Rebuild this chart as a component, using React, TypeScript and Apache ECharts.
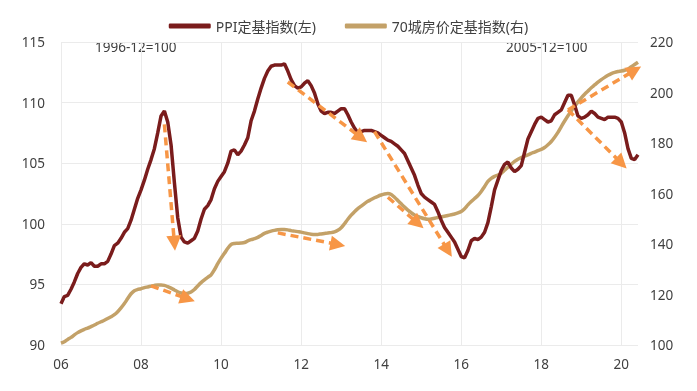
import { useEffect, useRef } from 'react';
import * as echarts from 'echarts';

// Monthly data, 2006-01 .. 2020-06
const ppi = [
  93.4, 94.0, 94.1, 94.6, 95.2, 95.9, 96.4, 96.7, 96.6, 96.8, 96.5, 96.5,
  96.7, 96.7, 96.9, 97.5, 98.2, 98.4, 98.8, 99.3, 99.6, 100.3, 101.2, 102.1,
  102.8, 103.6, 104.5, 105.3, 106.2, 107.5, 108.9, 109.3, 108.4, 106.5, 103.4, 100.5,
  98.9, 98.5, 98.4, 98.6, 98.8, 99.4, 100.4, 101.2, 101.5, 102.0, 102.9, 103.5,
  103.9, 104.3, 105.0, 106.0, 106.1, 105.7, 106.0, 106.5, 107.1, 108.5, 109.3, 110.3,
  111.2, 112.0, 112.6, 113.0, 113.1, 113.1, 113.1, 113.2, 112.6, 111.9, 111.4, 111.2,
  111.3, 111.6, 111.8, 111.4, 110.8, 109.9, 109.3, 109.1, 109.2, 109.2, 109.1, 109.3,
  109.5, 109.5, 109.0, 108.4, 107.9, 107.5, 107.6, 107.7, 107.7, 107.7, 107.6, 107.5,
  107.3, 107.1, 106.9, 106.8, 106.6, 106.4, 106.1, 105.8, 105.2, 104.6, 104.0, 103.2,
  102.5, 102.2, 102.0, 101.8, 101.6, 101.0, 100.3, 99.7, 99.3, 98.9, 98.5, 97.9,
  97.3, 97.2, 97.8, 98.6, 98.8, 98.7, 98.9, 99.3, 100.1, 101.4, 102.8, 103.6,
  104.4, 104.9, 105.1, 104.6, 104.3, 104.5, 104.8, 105.9, 107.0, 107.6, 108.2, 108.7,
  108.8, 108.6, 108.4, 108.5, 109.0, 109.2, 109.4, 110.0, 110.6, 110.6, 109.8, 108.9,
  108.7, 108.8, 109.0, 109.3, 109.1, 108.8, 108.7, 108.6, 108.8, 108.8, 108.8, 108.7,
  108.4, 107.5, 106.2, 105.4, 105.3, 105.7,
];

const house = [
  100.7, 101.3, 102.2, 103.0, 104.0, 104.9, 105.6, 106.2, 106.7, 107.3, 107.9, 108.6,
  109.2, 109.8, 110.5, 111.2, 112.0, 113.2, 114.7, 116.4, 118.4, 120.3, 121.5, 122.0,
  122.3, 122.7, 123.0, 123.3, 123.6, 123.8, 123.8, 123.6, 123.1, 122.5, 121.8, 121.1,
  120.6, 120.4, 120.5, 121.0, 122.0, 123.4, 124.7, 125.8, 126.8, 127.8, 129.8, 132.2,
  134.4, 136.3, 138.3, 139.8, 140.2, 140.3, 140.4, 140.6, 141.2, 141.7, 142.1, 142.6,
  143.4, 144.2, 144.7, 145.1, 145.4, 145.6, 145.7, 145.7, 145.6, 145.3, 145.1, 144.9,
  144.7, 144.4, 144.1, 143.9, 143.8, 143.8, 144.0, 144.2, 144.4, 144.5, 144.8, 145.4,
  146.4, 148.0, 149.8, 151.4, 152.8, 154.0, 155.0, 156.0, 156.9, 157.6, 158.3, 158.9,
  159.4, 159.8, 160.0, 159.6, 158.5, 157.2, 155.9, 154.6, 153.4, 152.4, 151.5, 150.9,
  150.4, 150.0, 149.8, 149.9, 150.2, 150.5, 150.8, 151.0, 151.3, 151.6, 151.9, 152.3,
  152.9, 154.0, 155.5, 156.8, 158.0, 159.2, 160.8, 162.8, 164.8, 166.0, 166.8, 167.3,
  168.0, 169.2, 170.4, 171.6, 172.7, 173.6, 174.2, 174.8, 175.3, 175.9, 176.4, 177.0,
  177.5, 178.2, 179.3, 180.6, 182.3, 184.2, 186.5, 188.7, 190.8, 192.7, 194.5, 196.3,
  197.9, 199.3, 200.6, 201.9, 203.0, 204.1, 205.1, 206.0, 206.8, 207.5, 208.0, 208.3,
  208.5, 208.8, 209.3, 210.2, 211.1, 212.0,
];

const startYear = 2006;
const months = ppi.map((_, i) => {
  const y = startYear + Math.floor(i / 12);
  const m = (i % 12) + 1;
  return `${String(y).slice(2)}-${String(m).padStart(2, '0')}`;
});

// Annotation arrows: [startMonthIndex, startValue, endMonthIndex, endValue]
const ppiArrows = [
  [31, 108.2, 34, 98.4],
  [68, 111.7, 90, 107.1],
  [94, 107.6, 116, 97.8],
  [152, 109.4, 168, 105.0],
];
const houseArrows = [
  [27, 123.4, 38, 118.3],
  [65, 144.4, 83, 139.8],
  [98, 158.5, 107, 148.2],
  [152, 193.1, 172, 208.8],
];

const seriesNames = ['PPI定基指数(左)', '70城房价定基指数(右)'];
const baseNotes = ['1996-12=100', '2005-12=100'];

const FONT = "'Noto Sans', 'Noto Sans CJK SC', sans-serif";
const TEXT = '#404040';
const ARROW = '#F79646';

function arrowLines(arr: number[][]) {
  return arr.map((a) => [{ coord: [a[0], a[1]] }, { coord: [a[2], a[3]] }]);
}

export default function App() {
  const ref = useRef<HTMLDivElement>(null);
  useEffect(() => {
    const chart = echarts.init(ref.current!, null, { renderer: 'svg' });
    const markLineBase = {
      silent: true,
      symbol: ['none', 'triangle'],
      symbolSize: 15,
      label: { show: false },
      lineStyle: { color: ARROW, width: 3.5, type: [8, 5], opacity: 1 },
      emphasis: { disabled: true },
      animation: false,
    };
    chart.setOption({
      animation: false,
      textStyle: { fontFamily: FONT },
      legend: {
        data: seriesNames,
        top: 14,
        left: 'center',
        itemWidth: 42,
        itemHeight: 5,
        itemGap: 29,
        icon: 'roundRect',
        textStyle: { color: TEXT, fontSize: 14, fontFamily: FONT },
      },
      grid: { left: 61, right: 59, top: 42, bottom: 46, containLabel: false },
      xAxis: {
        type: 'category',
        data: months,
        boundaryGap: false,
        axisLine: { show: false },
        axisTick: { show: false },
        axisLabel: {
          interval: 23,
          color: TEXT,
          fontSize: 13.5,
          fontFamily: FONT,
          margin: 12,
          formatter: (v: string) => v.slice(0, 2),
        },
        splitLine: { show: true, interval: 23, lineStyle: { color: '#EBEBEB', width: 1 } },
      },
      yAxis: [
        {
          type: 'value',
          min: 90,
          max: 115,
          interval: 5,
          axisLine: { show: false },
          axisTick: { show: false },
          axisLabel: { color: TEXT, fontSize: 13.5, fontFamily: FONT, margin: 16 },
          splitLine: { lineStyle: { color: '#EBEBEB', width: 1 } },
        },
        {
          type: 'value',
          min: 100,
          max: 220,
          interval: 20,
          axisLine: { show: false },
          axisTick: { show: false },
          axisLabel: { color: TEXT, fontSize: 13.5, fontFamily: FONT, margin: 12 },
          splitLine: { show: false },
        },
      ],
      series: [
        {
          name: seriesNames[1],
          type: 'line',
          yAxisIndex: 1,
          data: house,
          smooth: 0.3,
          showSymbol: false,
          lineStyle: { color: '#C3A168', width: 3.5 },
          itemStyle: { color: '#C3A168' },
          z: 2,
        },
        {
          name: seriesNames[0],
          type: 'line',
          yAxisIndex: 0,
          data: ppi,
          showSymbol: false,
          lineStyle: { color: '#7A1C1C', width: 3.5 },
          itemStyle: { color: '#7A1C1C' },
          z: 3,
        },
        {
          type: 'line',
          yAxisIndex: 1,
          data: [],
          z: 5,
          markLine: { ...markLineBase, data: arrowLines(houseArrows) },
        },
        {
          type: 'line',
          yAxisIndex: 0,
          data: [],
          z: 5,
          markLine: { ...markLineBase, data: arrowLines(ppiArrows) },
        },
      ],
      graphic: [
        {
          type: 'text',
          left: 95,
          top: 40,
          silent: true,
          style: { text: baseNotes[0], fill: TEXT, fontSize: 13.5, fontFamily: FONT },
        },
        {
          type: 'text',
          left: 506,
          top: 40,
          silent: true,
          style: { text: baseNotes[1], fill: TEXT, fontSize: 13.5, fontFamily: FONT },
        },
      ],
    });
    return () => chart.dispose();
  }, []);
  return (
    <div
      ref={ref}
      style={{ position: 'fixed', left: 0, top: 0, width: 697, height: 391 }}
    />
  );
}
